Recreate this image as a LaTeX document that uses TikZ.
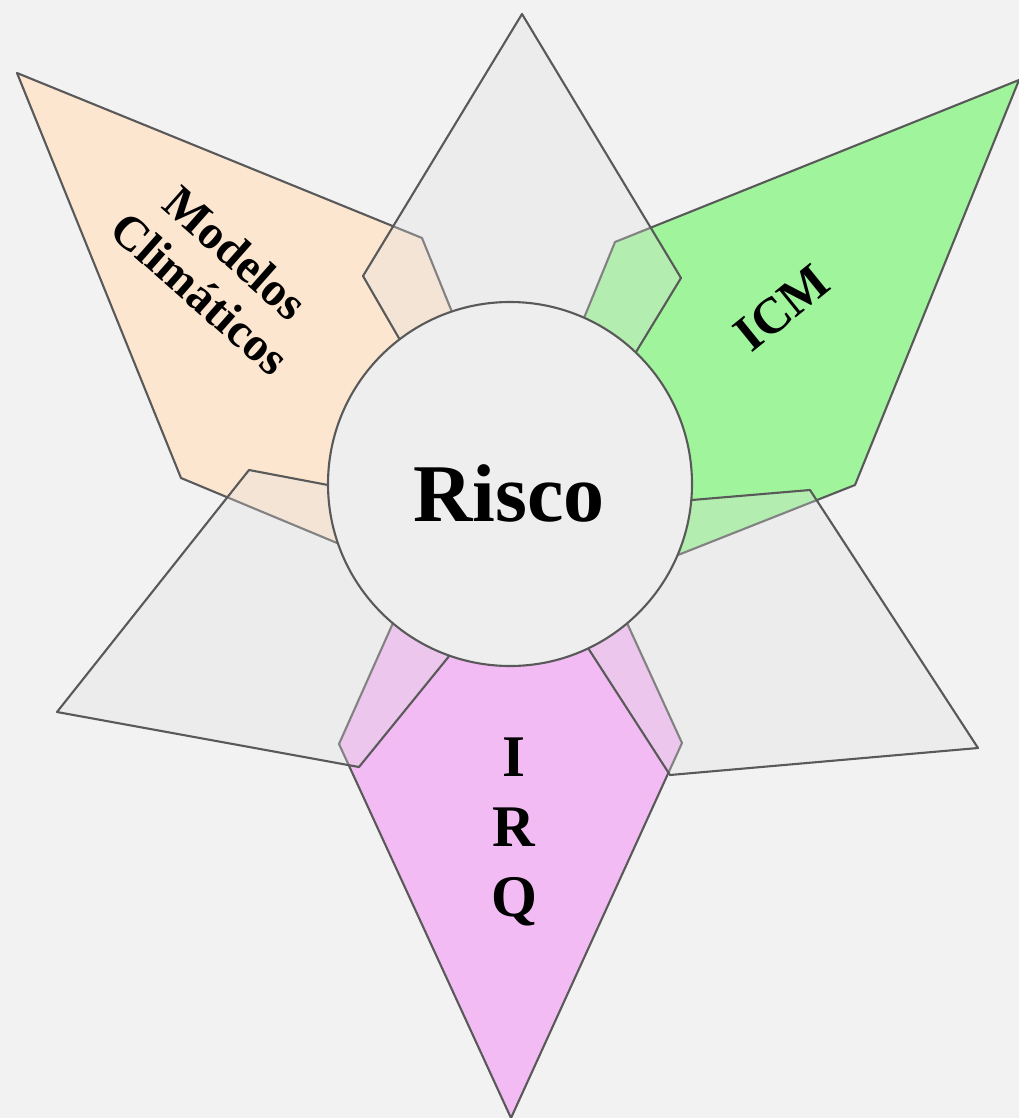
\documentclass[tikz,border=0pt]{standalone}
\usepackage{fontspec}
\setmainfont{Liberation Serif}
\usepackage{tikz}
\usetikzlibrary{positioning}
\definecolor{bggray}{HTML}{F2F2F2}
\definecolor{linegray}{HTML}{595959}
\definecolor{hubgray}{HTML}{EEEEEE}
\definecolor{petalgray}{HTML}{E1E1E1}
\definecolor{orangepetal}{HTML}{FDE6D0}
\definecolor{greenpetal}{HTML}{A0F59C}
\definecolor{pinkpetal}{HTML}{F2BBF3}

\begin{document}
\begin{tikzpicture}[x=1pt, y=-1pt,
    petal/.style={draw=linegray, line width=2.1pt, line join=round},
    greypetal/.style={petal, fill=petalgray, fill opacity=0.3},
    hub/.style={circle, draw=linegray, line width=2.1pt, fill=hubgray, minimum size=364pt, inner sep=0pt},
    mylabel/.style={font=\bfseries, inner sep=0pt, align=center}
    ]
\fill[bggray] (0,0) rectangle (1019,1118);
\useasboundingbox (0,0) rectangle (1019,1118);

\draw[petal, fill=orangepetal] (17,73) -- (422,238) -- (482,386) -- (493,608) -- (181,478) -- cycle;
\draw[petal, fill=greenpetal] (1019,80) -- (615,242) -- (553,394) -- (501,625) -- (855,485) -- cycle;
\draw[petal, fill=pinkpetal] (511,1118) -- (339,744) -- (447,502) -- (572,503) -- (682,743) -- cycle;

\draw[greypetal] (522,14) -- (363,276) -- (437,404) -- (591,426) -- (681,278) -- cycle;
\draw[greypetal] (57,712) -- (249,470) -- (407,500) -- (541,543) -- (359,767) -- cycle;
\draw[greypetal] (978,748) -- (810,490) -- (574,510) -- (506,521) -- (670,775) -- cycle;

\node[hub] (hub) at (510,484) {};
\node[mylabel, font=\fontsize{82}{90}\selectfont\bfseries] (risco) at (509,493) {Risco};

\node[mylabel, font=\fontsize{48}{54}\selectfont\bfseries, rotate=-41.5] (modelos) at (218,273) {Modelos\\Climáticos};
\node[mylabel, font=\fontsize{51}{60}\selectfont\bfseries, rotate=39] (icm) at (782,308) {ICM};
\node[mylabel, font=\fontsize{59}{70}\selectfont\bfseries, anchor=north] (irq) at (514,738) {I\\R\\Q};
\end{tikzpicture}
\end{document}
